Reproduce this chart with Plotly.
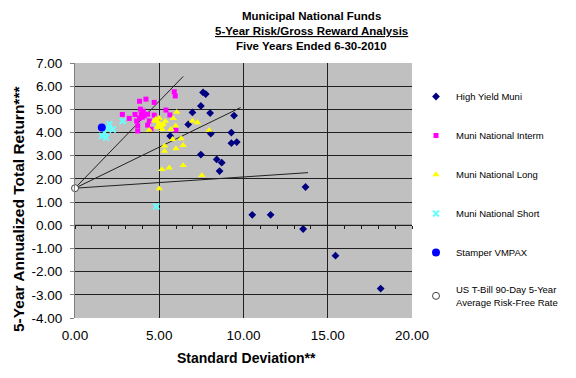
import plotly.graph_objects as go

# ---------------- data ----------------
hy_sd = [7.60, 7.76, 7.47, 6.97, 8.02, 9.44, 6.72, 8.06, 9.28, 9.28, 9.60, 7.47, 8.41, 8.71, 8.58, 5.65,
         13.68, 10.52, 11.61, 13.54, 15.46, 18.14]
hy_ret = [5.73, 5.66, 5.15, 4.87, 4.84, 4.73, 4.35, 3.95, 4.00, 3.54, 3.59, 3.05, 2.84, 2.70, 2.34, 3.85,
          1.65, 0.45, 0.45, -0.16, -1.31, -2.73]

int_sd = [5.89, 5.95, 3.83, 4.21, 4.70, 2.81, 3.22, 3.56, 3.88, 3.93, 4.05, 4.31, 4.70, 5.40, 5.63,
          3.72, 3.72, 4.31, 4.51, 5.99, 3.66, 4.11, 4.41, 3.82, 3.99]
int_ret = [5.76, 5.58, 5.35, 5.44, 5.30, 4.78, 4.61, 4.78, 5.01, 4.79, 4.92, 4.79, 4.75, 4.97, 4.76,
           4.29, 4.07, 4.32, 4.14, 4.11, 4.50, 4.72, 4.50, 4.62, 4.66]

long_sd = [6.04, 5.83, 5.98, 6.30, 6.42, 5.31, 5.31, 5.99, 5.16, 5.59, 6.42, 7.53, 5.00, 6.97, 7.27,
           7.96, 4.41, 4.80, 5.69, 5.79, 4.70, 4.88, 5.00, 5.12, 5.24, 5.06, 5.18, 5.00, 5.36, 4.88]
long_ret = [4.88, 4.61, 4.29, 3.74, 3.45, 3.42, 3.20, 3.31, 2.41, 2.48, 2.58, 2.15, 1.58, 4.50, 4.43,
            4.10, 4.10, 4.58, 4.14, 3.71, 4.50, 4.49, 4.40, 4.31, 4.36, 4.23, 4.14, 4.62, 4.49, 4.23]

short_sd = [2.04, 1.85, 1.61, 1.85, 1.75, 2.83, 2.24, 1.95, 4.82]
short_ret = [4.36, 4.22, 3.85, 3.78, 4.00, 4.50, 4.13, 4.20, 0.81]

vmpax_sd = [1.59]
vmpax_ret = [4.22]

rf_sd = [0.0]
rf_ret = [1.60]

# capital market lines from the risk-free point
cml_end_sd = [6.42, 9.83, 13.83]
cml_end_ret = [6.42, 5.08, 2.27]

x_ticks = [0, 5, 10, 15, 20]
y_ticks = list(range(-4, 8))

FONT = "Liberation Sans, Arial, sans-serif"

# page body has an 8px default margin -> figure starts at (8, 8)
OFF = 8
L, R, T, B = 75, 412, 63, 318          # target plot area in window pixels
W, H = 576 - OFF, 378 - OFF
PW, PH = R - L, B - T


def px_x(x):
    return (x - L) / PW


def px_y(y):
    return (B - y) / PH


fig = go.Figure()

for sd_e, r_e in zip(cml_end_sd, cml_end_ret):
    fig.add_trace(go.Scatter(x=[rf_sd[0], sd_e], y=[rf_ret[0], r_e], mode="lines",
                             line=dict(color="#202020", width=1), showlegend=False,
                             hoverinfo="skip"))

fig.add_trace(go.Scatter(x=hy_sd, y=hy_ret, mode="markers", name="High Yield Muni",
                         legendgroup="a",
                         marker=dict(symbol="diamond", color="#000080", size=6)))
fig.add_trace(go.Scatter(x=int_sd, y=int_ret, mode="markers", name="Muni National Interm",
                         legendgroup="b",
                         marker=dict(symbol="square", color="#FF00FF", size=5)))
fig.add_trace(go.Scatter(x=long_sd, y=long_ret, mode="markers", name="Muni National Long",
                         legendgroup="c",
                         marker=dict(symbol="triangle-up", color="#FFFF00", size=6.5)))
fig.add_trace(go.Scatter(x=short_sd, y=short_ret, mode="markers", name="Muni National Short",
                         legendgroup="d",
                         marker=dict(symbol="x-thin", color="#66FFFF", size=6,
                                     line=dict(color="#66FFFF", width=2))))
fig.add_trace(go.Scatter(x=vmpax_sd, y=vmpax_ret, mode="markers", name="Stamper VMPAX",
                         legendgroup="e",
                         marker=dict(symbol="circle", color="#0000FF", size=8)))
fig.add_trace(go.Scatter(x=rf_sd, y=rf_ret, mode="markers",
                         name="US T-Bill 90-Day 5-Year<br>Average Risk-Free Rate",
                         legendgroup="f", cliponaxis=False,
                         marker=dict(symbol="circle", color="white", size=7,
                                     line=dict(color="#404040", width=1))))

# axis line at y = 0 with small ticks every 1 unit
fig.update_layout(
    xaxis2=dict(overlaying="x", anchor="free", position=4 / 11, range=[0, 20],
                tickmode="linear", tick0=0, dtick=1, ticks="outside", ticklen=3,
                tickcolor="#202020", showticklabels=False, showgrid=False,
                zeroline=False, showline=False, side="bottom", matches="x"),
)
fig.add_trace(go.Scatter(x=[0, 20], y=[0, 0], xaxis="x2", mode="lines",
                         line=dict(color="#202020", width=1), showlegend=False,
                         hoverinfo="skip"))

title_lines = ["Municipal National Funds", "<u>5-Year Risk/Gross Reward Analysis</u>",
               "Five Years Ended 6-30-2010"]
for i, t in enumerate(title_lines):
    fig.add_annotation(text="<b>%s</b>" % t, xref="paper", yref="paper",
                       x=px_x(311), y=px_y(16 + 15 * i),
                       showarrow=False, font=dict(size=11.5, color="black", family=FONT),
                       xanchor="center", yanchor="middle")

fig.add_annotation(text="<b>5-Year Annualized Total Return***</b>", xref="paper", yref="paper",
                   x=px_x(18), y=px_y(209), textangle=-90, showarrow=False,
                   font=dict(size=15.5, color="black", family=FONT),
                   xanchor="center", yanchor="middle")
fig.add_annotation(text="<b>Standard Deviation**</b>", xref="paper", yref="paper",
                   x=px_x(246), y=px_y(358), showarrow=False,
                   font=dict(size=14, color="black", family=FONT),
                   xanchor="center", yanchor="middle")

fig.update_layout(
    width=W, height=H,
    margin=dict(l=L - OFF, r=W - (R - OFF), t=T - OFF, b=H - (B - OFF), pad=0,
                autoexpand=False),
    paper_bgcolor="white", plot_bgcolor="#C0C0C0",
    font=dict(family=FONT, size=13, color="black"),
    showlegend=True,
    legend=dict(xref="container", yref="container",
                x=(416 - OFF) / W, y=1 - (82 - OFF) / H, xanchor="left", yanchor="top",
                font=dict(size=9.5, family=FONT), tracegroupgap=20,
                traceorder="grouped", itemsizing="trace", itemwidth=30,
                maxheight=330, bgcolor="rgba(0,0,0,0)"),
    xaxis=dict(range=[0, 20], tickvals=x_ticks, ticktext=["%.2f" % v for v in x_ticks],
               showgrid=True, gridcolor="#202020", gridwidth=1, zeroline=False,
               showline=False, ticks="outside", ticklen=2, tickcolor="rgba(0,0,0,0)",
               ticklabelstandoff=3, tickfont=dict(size=13.5)),
    yaxis=dict(range=[-4, 7], tickvals=y_ticks, ticktext=["%.2f" % v for v in y_ticks],
               showgrid=True, gridcolor="#202020", gridwidth=1, zeroline=False,
               showline=True, linecolor="#808080", ticks="outside", ticklen=4,
               tickcolor="#808080", ticklabelstandoff=5, tickfont=dict(size=13.5)),
)

fig.write_html("out.html")
